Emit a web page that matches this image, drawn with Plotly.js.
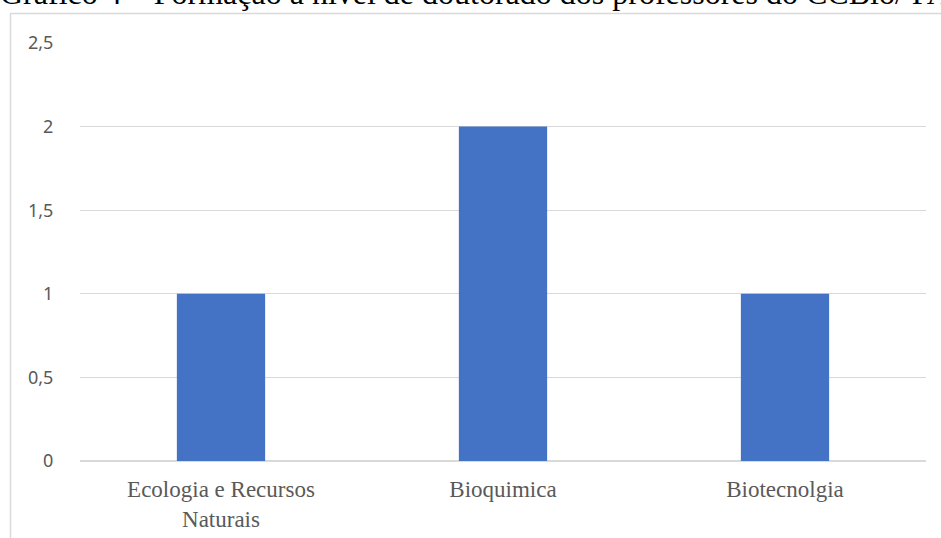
<!DOCTYPE html>
<html>
<head>
<meta charset="utf-8">
<script src="https://cdn.plot.ly/plotly-3.0.1.min.js"></script>
<style>html,body{margin:0;padding:0;background:#fff;}#chart{width:941px;height:538px;}</style>
</head>
<body>
<div id="chart"></div>
<script>
var categories = ["Ecologia e Recursos<br>Naturais", "Bioquimica", "Biotecnolgia"];
var values = [1, 2, 1];
var yTickVals = [0, 0.5, 1, 1.5, 2, 2.5];
var yTickText = ["0", "0,5", "1", "1,5", "2", "2,5"];
var titleText = "Gráfico 4 – Formação a nível de doutorado dos professores do CCBio/ PAF";

var W = 941, H = 538, ml = 80, mr = 15, mt = 43, mb = 77;
var pw = W - ml - mr, ph = H - mt - mb;
function px2x(p){ return (p - ml) / pw; }
function py2y(p){ return (H - mb - p) / ph; }

var data = [{
  type: 'bar',
  x: categories,
  y: values,
  marker: {color: '#4472c4'},
  width: 0.313,
  hoverinfo: 'none'
}];

var layout = {
  width: W, height: H,
  margin: {l: ml, r: mr, t: mt, b: mb, pad: 0},
  paper_bgcolor: '#ffffff',
  plot_bgcolor: '#ffffff',
  showlegend: false,
  xaxis: {
    tickfont: {family: 'Liberation Serif, Times New Roman, serif', size: 23, color: '#595959'},
    showgrid: false, zeroline: false, showline: false,
    ticks: 'outside', ticklen: 7, tickcolor: 'rgba(0,0,0,0)'
  },
  yaxis: {
    range: [0, 2.5],
    tickvals: yTickVals, ticktext: yTickText,
    tickfont: {family: 'Noto Sans, Open Sans, sans-serif', size: 18, color: '#595959'},
    showgrid: true, gridcolor: '#d9d9d9', gridwidth: 1,
    zeroline: true, zerolinecolor: '#d9d9d9', zerolinewidth: 1.5,
    showline: false, ticks: 'outside', ticklen: 22, tickcolor: 'rgba(0,0,0,0)'
  },
  annotations: [{
    text: titleText, showarrow: false,
    xref: 'paper', yref: 'paper',
    x: px2x(-2), xanchor: 'left',
    y: py2y(-7), yanchor: 'middle',
    font: {family: 'Liberation Serif, Times New Roman, serif', size: 32, color: '#000000'}
  }],
  shapes: [{
    type: 'rect', xref: 'paper', yref: 'paper', layer: 'below',
    x0: px2x(10.5), x1: px2x(960), y0: py2y(560), y1: py2y(13.5),
    line: {color: '#d9d9d9', width: 1.5}, fillcolor: 'rgba(0,0,0,0)'
  }]
};

Plotly.newPlot('chart', data, layout, {displayModeBar: false, staticPlot: true});
</script>
</body>
</html>
